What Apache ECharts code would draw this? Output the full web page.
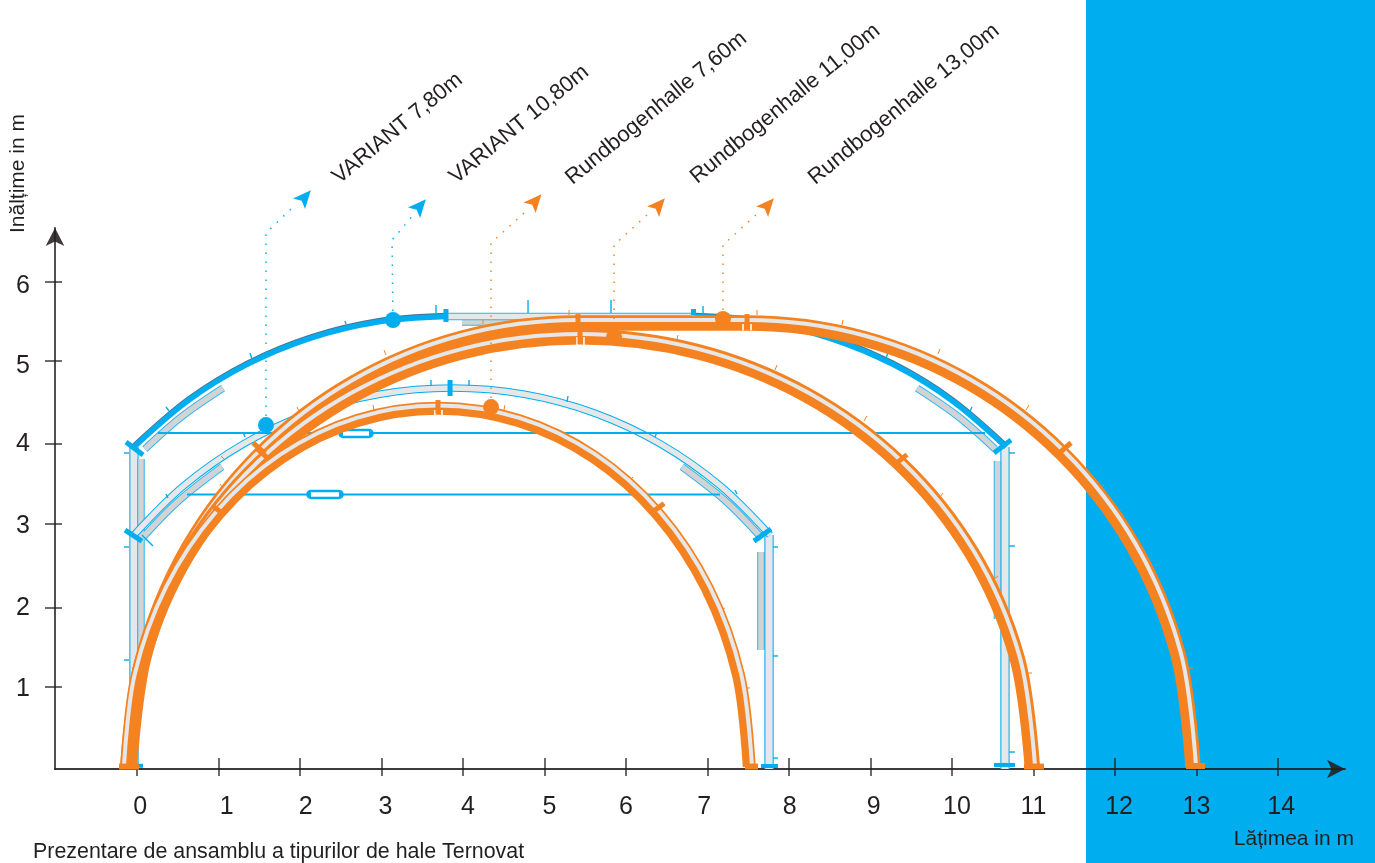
<!DOCTYPE html>
<html><head><meta charset="utf-8">
<style>html,body{margin:0;padding:0;background:#fff}#c{width:1375px;height:863px}</style>
<script src="https://cdn.jsdelivr.net/npm/echarts@6/dist/echarts.min.js"></script></head>
<body><div id="c"></div>
<script>
// ---- axis values
const xTicks = [0,1,2,3,4,5,6,7,8,9,10,11,12,13,14];
const xLabelSpots = [0.04,1.1,2.07,3.05,4.06,5.06,6,6.96,8.01,9.04,10.06,11,12.05,13,14.04];
const yTicks = [1.01,1.983,3.017,4.002,5.025,5.998];
const yLabelSpots = [0.99,1.98,2.99,4,4.96,5.95];
const xTitle = 'Lățimea in m', yTitle = 'Inălțime in m';
const caption = 'Prezentare de ansamblu a tipurilor de hale Ternovat';
// ---- hall names, with label anchor
const hallNames = ['VARIANT 7,80m','VARIANT 10,80m','Rundbogenhalle 7,60m','Rundbogenhalle 11,00m','Rundbogenhalle 13,00m'];
const hallLabelSpots = [[2.442,7.254],[3.877,7.254],[5.301,7.241],[6.834,7.254],[8.282,7.241]];
// ---- orange arcs: band centre and grey stripe centre, in metres
const arc13Band = [[-0.092,0.03],[0.095,1.422],[0.645,2.747],[1.52,3.884],[2.659,4.757],[3.986,5.306],[5.411,5.493],[6.45,5.493],[7.485,5.493],[8.902,5.306],[10.221,4.757],[11.354,3.884],[12.224,2.747],[12.771,1.422],[12.957,0.03]];
const arc13Stripe = [[-0.129,0.03],[0.06,1.432],[0.613,2.765],[1.494,3.91],[2.641,4.789],[3.976,5.342],[5.411,5.53],[6.45,5.53],[7.485,5.53],[8.912,5.342],[10.24,4.789],[11.38,3.91],[12.256,2.765],[12.807,1.432],[12.994,0.03]];
const arc11Band = [[-0.113,0.03],[0.076,1.378],[0.63,2.662],[1.512,3.764],[2.661,4.61],[3.999,5.142],[5.436,5.323],[6.873,5.142],[8.211,4.61],[9.36,3.764],[10.242,2.662],[10.796,1.378],[10.985,0.03]];
const arc11Stripe = [[-0.147,0.03],[0.043,1.387],[0.601,2.679],[1.488,3.788],[2.644,4.639],[3.99,5.175],[5.436,5.357],[6.882,5.175],[8.228,4.639],[9.384,3.788],[10.271,2.679],[10.829,1.387],[11.019,0.03]];
const arc76Band = [[-0.126,0.03],[0.004,1.151],[0.386,2.222],[0.993,3.142],[1.783,3.848],[2.704,4.292],[3.693,4.443],[4.682,4.292],[5.603,3.848],[6.393,3.142],[7.0,2.222],[7.382,1.151],[7.512,0.03]];
const arc76Stripe = [[-0.16,0.03],[-0.029,1.16],[0.356,2.239],[0.969,3.165],[1.766,3.877],[2.695,4.325],[3.693,4.477],[4.691,4.325],[5.62,3.877],[6.417,3.165],[7.03,2.239],[7.415,1.16],[7.546,0.03]];
// ---- blue halls
const v108Left = [[-0.037,3.966],[0.632,4.542],[1.351,4.984],[2.131,5.308],[2.951,5.506],[3.791,5.573]];
const v108Flat = [[3.791,5.573],[6.847,5.573]];
const v108Right = [[6.847,5.573],[7.675,5.506],[8.494,5.308],[9.275,4.984],[9.994,4.542],[10.663,3.966]];
const v78Arc = [[-0.037,2.882],[0.575,3.49],[1.307,4.004],[2.115,4.383],[2.977,4.615],[3.865,4.692],[4.753,4.615],[5.615,4.383],[6.423,4.004],[7.155,3.49],[7.767,2.882]];
const platesLight = [
  [[0.061,2.841],[0.507,3.299],[1.044,3.722]], [[6.686,3.722],[7.223,3.299],[7.669,2.841]],
  [[0.098,3.941],[0.55,4.341],[1.055,4.691]], [[9.571,4.691],[10.076,4.341],[10.528,3.941]],
  [[3.988,5.505],[4.945,5.505]],
  [[0.049,3.818],[0.049,1.342]], [[10.558,3.793],[10.558,1.847]], [[7.656,2.672],[7.656,1.466]]
];
const columns = [[[-0.037,3.966],[-0.037,0]],[[10.65,3.966],[10.65,0]],[[7.755,2.882],[7.755,0]]];
const tieRods = [[[0.258,4.138],[10.405,4.138]],[[0.613,3.381],[7.153,3.381]]];
const turnbuckles = [[[2.528,4.132],[2.847,4.132]],[[2.135,3.381],[2.479,3.381]]];
const blueFeet = [[[7.656,0.037],[7.865,0.037]],[[10.515,0.05],[10.773,0.05]],[[-0.11,0.04],[0.074,0.04]]];
const blueJoints = [[[-0.135,4.027],[0.074,3.867]],[[-0.147,2.943],[0.061,2.807]],[[7.57,2.807],[7.779,2.955]],[[10.515,3.892],[10.724,4.052]],[[3.791,5.665],[3.791,5.505]],[[3.841,4.791],[3.841,4.594]],[[6.828,5.665],[6.828,5.591]]];
const blueSpikes = [[[-0.16,3.892],[-0.098,3.892]],[[-0.16,2.734],[-0.098,2.734]],[[-0.16,1.342],[-0.098,1.342]],
  [[10.699,3.892],[10.773,3.892]],[[10.699,2.746],[10.773,2.746]],[[10.699,1.342],[10.773,1.342]],[[10.699,0.209],[10.773,0.209]],
  [[7.804,2.734],[7.865,2.734]],[[7.804,1.392],[7.865,1.392]],[[7.804,0.135],[7.865,0.135]],
  [[3.669,5.714],[3.669,5.616]],[[4.798,5.776],[4.798,5.616]],[[5.816,5.776],[5.816,5.616]],[[6.945,5.702],[6.945,5.616]],
  [[1.387,5.123],[1.411,5.049]],[[0.356,4.458],[0.393,4.409]],[[9.215,5.123],[9.19,5.062]],[[10.245,4.458],[10.221,4.409]],[[2.552,5.517],[2.564,5.48]],
  [[3.607,4.791],[3.607,4.717]],[[4.074,4.791],[4.074,4.717]],[[5.288,4.594],[5.276,4.52]],[[1.325,4.089],[1.301,4.15]],[[0.356,3.387],[0.38,3.337]],
  [[7.337,3.436],[7.362,3.387]],[[6.356,4.089],[6.38,4.15]],[[0.061,2.882],[0.196,2.746]]];
// ---- orange details
const orangeJoints = [[[3.693,4.544],[3.693,4.384]],[[6.33,3.17],[6.468,3.271]],[[0.919,3.246],[1.069,3.134]],
  [[5.436,5.431],[5.436,5.234]],[[9.3,3.752],[9.448,3.872]],[[1.46,3.956],[1.608,3.827]],
  [[5.411,5.603],[5.411,5.406]],[[7.485,5.603],[7.485,5.419]],[[11.312,3.888],[11.461,4.018]],[[1.423,4.018],[1.571,3.888]]];
const jointNotches = [[[5.4,5.32],[5.4,5.2]],[[5.484,5.32],[5.484,5.2]],[[7.436,5.48],[7.436,5.4]],[[7.534,5.48],[7.534,5.4]],[[3.656,4.42],[3.656,4.34]],[[3.742,4.42],[3.742,4.34]]];
const orangeSpikes = [[[3.031,5.16],[3.055,5.099]],[[4.245,5.542],[4.245,5.48]],[[5.301,5.653],[5.301,5.591]],[[7.607,5.653],[7.607,5.591]],[[8.663,5.53],[8.65,5.468]],[[9.853,5.172],[9.828,5.111]],[[10.945,4.483],[10.908,4.421]],[[11.865,3.498],[11.816,3.461]],[[12.957,1.244],[12.908,1.244]],
  [[6.638,5.345],[6.626,5.283]],[[7.853,4.975],[7.828,4.914]],[[8.957,4.347],[8.92,4.286]],[[9.89,3.399],[9.853,3.35]],[[10.564,2.377],[10.515,2.34]],[[10.982,1.182],[10.933,1.182]],
  [[2.896,4.483],[2.908,4.421]],[[4.515,4.483],[4.503,4.421]],[[6.086,3.596],[6.05,3.56]],[[7.215,1.983],[7.166,1.958]],[[7.521,0.998],[7.472,0.998]],
  [[0.368,2.426],[0.417,2.401]],[[0.184,1.958],[0.233,1.946]],[[-0.061,1.244],[-0.012,1.244]],[[-0.11,0.973],[-0.061,0.973]],[[1.031,3.855],[1.067,3.818]],[[1.963,4.458],[1.988,4.409]],[[1.018,3.51],[1.055,3.461]]];
const orangeFeet = [[[-0.221,0.03],[0.025,0.03]],[[7.46,0.03],[7.62,0.03]],[[10.883,0.03],[11.129,0.03]],[[12.871,0.037],[13.104,0.037]]];
// ---- pointers: dotted leader, dot and arrow head
const leaders = [[[1.583,4.236],[1.583,6.601],[1.914,6.921]],[[3.141,5.53],[3.129,6.515],[3.423,6.86]],[[4.344,4.458],[4.344,6.478],[4.748,6.847]],[[5.853,5.32],[5.853,6.453],[6.27,6.835]],[[7.19,5.542],[7.19,6.453],[7.607,6.835]]];
const arrowHeads = [[2.061,7.044],[3.472,6.933],[4.89,6.995],[6.405,6.946],[7.742,6.946]];
const hallColor = ['blue','blue','orange','orange','orange'];

const BLUE='#00aeef', ORANGE='#f58220', GREY='#e6e7e8', PLATE='#d1d3d4', EDGE='#29b6ee', INK='#231f20', AXIS='rgba(35,31,32,.88)';
const FONT='"Liberation Sans",Arial,sans-serif';
const col = k => k==='blue'?BLUE:ORANGE;
const line=(data,color,width,o={})=>Object.assign({type:'line',data,showSymbol:false,symbol:'none',clip:false,silent:true,animation:false,
  lineStyle:Object.assign({color,width,cap:'butt',join:'round',opacity:1},o.ls||{}),smooth:o.smooth||false},o.extra||{});
const many=(list,color,width,o)=>list.map(d=>line(d,color,width,o));
const SM={smooth:0.34};
const series=[];
// blue halls
many(columns,EDGE,9.5).forEach(s=>series.push(s));
many(columns,GREY,7).forEach(s=>series.push(s));
many(platesLight,EDGE,7.5,SM).forEach(s=>series.push(s));
many(platesLight,PLATE,5.5,SM).forEach(s=>series.push(s));
series.push(line(v78Arc,BLUE,7.5,SM),line(v78Arc,GREY,5.5,SM));
series.push(line(v108Flat,EDGE,7.5),line(v108Flat,GREY,5.5));
[v108Left,v108Right].forEach(a=>series.push(line(a,BLUE,5.5,{smooth:0.34,ls:{shadowColor:'rgba(0,50,90,.7)',shadowBlur:0,shadowOffsetY:-1}})));
many(tieRods,BLUE,2).forEach(s=>series.push(s));
many(turnbuckles,BLUE,9.5,{ls:{cap:'round'}}).forEach(s=>series.push(s));
many(turnbuckles,'#fff',4.5).forEach(s=>series.push(s));
many(blueSpikes,BLUE,1.4).forEach(s=>series.push(s));
many(blueJoints,BLUE,5).forEach(s=>series.push(s));
many(blueFeet,BLUE,4).forEach(s=>series.push(s));
// orange halls
many(orangeSpikes,ORANGE,1).forEach(s=>series.push(s));
[[arc13Band,arc13Stripe,15.5],[arc11Band,arc11Stripe,15.5],[arc76Band,arc76Stripe,13]].forEach(([b,g,w])=>{
  series.push(line(b,ORANGE,w,SM));
  series.push(line(g,GREY,4,SM));
});
many(jointNotches,'#fff',1.6).forEach(s=>series.push(s));
many(orangeJoints,ORANGE,5).forEach(s=>series.push(s));
many(orangeFeet,ORANGE,6).forEach(s=>series.push(s));
// pointers
leaders.forEach((d,i)=>series.push(line(d,col(hallColor[i]),1.5,{ls:{type:[1.5,7.5]}})));
const dotBase={type:'scatter',silent:true,clip:false,animation:false};
leaders.forEach((d,i)=>series.push(Object.assign({},dotBase,{symbol:'circle',symbolSize:16,data:[d[0]],itemStyle:{color:col(hallColor[i]),opacity:1},z:5})));
arrowHeads.forEach((d,i)=>series.push(Object.assign({},dotBase,{symbol:'path://M0,-10 L8,8 L0,4 L-8,8 Z',symbolSize:[16,18],symbolRotate:-41,data:[d],itemStyle:{color:col(hallColor[i]),opacity:1},z:5})));
hallNames.forEach((n,i)=>series.push(Object.assign({},dotBase,{symbolSize:1,itemStyle:{color:'transparent',opacity:1},data:[hallLabelSpots[i]],z:6,
  label:{show:true,position:[0,0],formatter:n,rotate:39.5,align:'left',verticalAlign:'middle',fontFamily:FONT,fontSize:22,color:INK,opacity:1}})));

const chart=echarts.init(document.getElementById('c'),null,{renderer:'canvas'});
const X0=-1.006,X1=14.822,Y1=6.663;
chart.setOption({
  animation:false,backgroundColor:'#fff',
  title:{text:caption,left:28,top:837,textStyle:{fontFamily:FONT,fontSize:21.4,fontWeight:'normal',color:INK}},
  graphic:[{type:'rect',z:-10,silent:true,shape:{x:1086,y:0,width:289,height:863},style:{fill:BLUE}}],
  grid:{left:55,right:30,top:228,bottom:94},
  xAxis:[{type:'value',min:X0,max:X1,splitLine:{show:false},position:'bottom',
    name:xTitle,nameLocation:'end',nameGap:9,nameTextStyle:{fontFamily:FONT,fontSize:21,color:INK,align:'right',verticalAlign:'top',padding:[60,0,0,0]},
    axisLine:{show:true,onZero:false,lineStyle:{color:AXIS,width:1.8},symbol:['none','arrow'],symbolSize:[14,18]},
    axisTick:{show:true,customValues:xTicks,length:7,inside:false,lineStyle:{color:AXIS,width:1.5}},
    axisLabel:{show:true,customValues:xLabelSpots,margin:26,fontFamily:FONT,fontSize:25,color:INK,hideOverlap:false,formatter:v=>String(Math.round(v))}},
   {type:'value',min:X0,max:X1,splitLine:{show:false},position:'bottom',axisLine:{show:false,onZero:false},
    axisTick:{show:true,customValues:xTicks,length:11,inside:true,lineStyle:{color:AXIS,width:1.5}},axisLabel:{show:false}}],
  yAxis:[{type:'value',min:0,max:Y1,splitLine:{show:false},position:'left',
    name:yTitle,nameLocation:'end',nameRotate:90,nameGap:-5,nameTextStyle:{fontFamily:FONT,fontSize:21,color:INK,align:'left',verticalAlign:'bottom',padding:[0,0,26,0]},
    axisLine:{show:true,onZero:false,lineStyle:{color:AXIS,width:1.8},symbol:['none','arrow'],symbolSize:[14,18]},
    axisTick:{show:true,customValues:yTicks,length:10,inside:false,lineStyle:{color:AXIS,width:1.5}},
    axisLabel:{show:true,customValues:yLabelSpots,margin:25,fontFamily:FONT,fontSize:25,color:INK,formatter:v=>String(Math.round(v))}},
   {type:'value',min:0,max:Y1,splitLine:{show:false},position:'left',axisLine:{show:false,onZero:false},
    axisTick:{show:true,customValues:yTicks,length:7,inside:true,lineStyle:{color:AXIS,width:1.5}},axisLabel:{show:false}}],
  series
});
</script></body></html>
